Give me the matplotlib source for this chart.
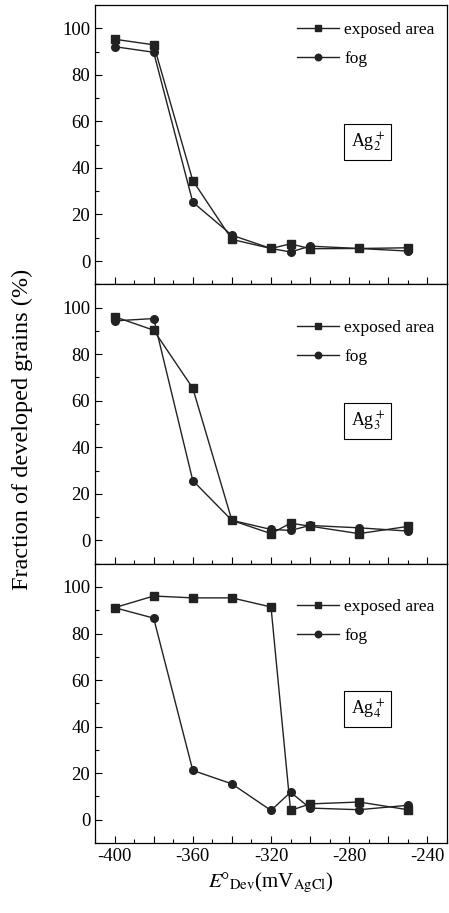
import numpy as np
import matplotlib
matplotlib.use('Agg')
import matplotlib.pyplot as plt
from matplotlib.ticker import MultipleLocator, FuncFormatter

plt.rcParams['font.family'] = ['Liberation Serif', 'DejaVu Serif']
plt.rcParams['mathtext.fontset'] = 'stix'

# potentials (mV vs AgCl)
potential = [-400, -380, -360, -340, -320, -310, -300, -275, -250]

# Ag2+
ag2_exposed = [95.3, 92.9, 34.6, 9.3, 5.4, 7.4, 5.3, 5.4, 5.7]
ag2_fog = [92.1, 89.7, 25.3, 11.1, 5.4, 3.9, 6.4, 5.4, 4.3]
# Ag3+
ag3_exposed = [96.1, 90.3, 65.4, 8.6, 2.9, 7.4, 6.1, 2.9, 6.0]
ag3_fog = [94.3, 95.3, 25.7, 8.6, 4.7, 4.3, 6.4, 5.4, 4.0]
# Ag4+
ag4_exposed = [91.1, 96.1, 95.3, 95.3, 91.4, 4.0, 6.8, 7.6, 4.3]
ag4_fog = [91.1, 86.6, 21.2, 15.4, 4.0, 11.8, 5.0, 4.3, 6.2]

panels = [
    (ag2_exposed, ag2_fog, r'Ag$_2^+$'),
    (ag3_exposed, ag3_fog, r'Ag$_3^+$'),
    (ag4_exposed, ag4_fog, r'Ag$_4^+$'),
]

W, H = 449, 913
fig = plt.figure(figsize=(W / 100, H / 100), dpi=100)

left, right = 95 / W, 447 / W
top, bottom = 1 - 5 / H, 1 - 843 / H
ph = (top - bottom) / 3

legend_top = [0.995, 0.93, 0.93]
box_y = [0.51, 0.51, 0.48]
col = '#222222'

for i, (exp_vals, fog_vals, name) in enumerate(panels):
    ax = fig.add_axes([left, top - (i + 1) * ph, right - left, ph])
    ax.plot(potential, exp_vals, '-s', color=col, lw=1.0, ms=5.5,
            label='exposed area')
    ax.plot(potential, fog_vals, '-o', color=col, lw=1.0, ms=5.5, label='fog')
    ax.set_xlim(-410, -230)
    ax.set_ylim(-10, 110)

    ax.xaxis.set_major_locator(MultipleLocator(20))
    ax.xaxis.set_minor_locator(MultipleLocator(10))
    ax.yaxis.set_major_locator(MultipleLocator(20))
    ax.yaxis.set_minor_locator(MultipleLocator(10))
    ax.tick_params(which='both', direction='in', top=False, right=False,
                   labelsize=13.5)
    ax.tick_params(which='major', length=5, width=0.8)
    ax.tick_params(which='minor', length=3, width=0.8)
    if i < 2:
        ax.tick_params(axis='x', labelbottom=False)
    else:
        ax.xaxis.set_major_formatter(
            FuncFormatter(lambda v, p: '%d' % v if int(v) % 40 == 0 else ''))

    ax.legend(loc='upper left', bbox_to_anchor=(0.53, legend_top[i]),
              frameon=False, fontsize=12.5, handlelength=2.4,
              handletextpad=0.3, labelspacing=0.75, markerscale=0.85)
    ax.text(0.775, box_y[i], name, transform=ax.transAxes, fontsize=13,
            ha='center', va='center',
            bbox=dict(boxstyle='square,pad=0.35', fc='white', ec='black',
                      lw=0.8))
    for s in ax.spines.values():
        s.set_linewidth(0.9)

    if i == 2:
        ax.set_xlabel(r'$E$°$_{\rm Dev}$(mV$_{\rm AgCl}$)', fontsize=15,
                      labelpad=4)

fig.text(22 / W, 0.53, 'Fraction of developed grains (%)', rotation=90,
         ha='center', va='center', fontsize=17.5)

fig.savefig('out.png', dpi=100)
